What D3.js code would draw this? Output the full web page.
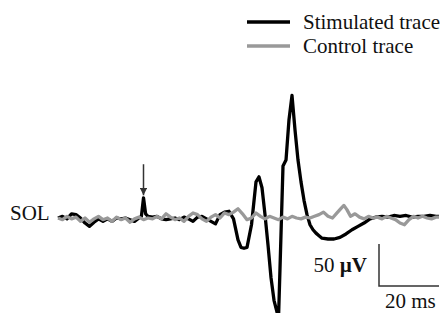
<!DOCTYPE html>
<html>
<head>
<meta charset="utf-8">
<script src="https://cdn.jsdelivr.net/npm/d3@7.9.0/dist/d3.min.js"></script>
<style>
  html, body { margin: 0; padding: 0; background: #fff; }
  svg { display: block; }
</style>
</head>
<body>
<div id="viz"></div>
<script>
// stimulated trace (time in ms, amplitude in µV)
const stimTime = [0, 1.5, 3, 4.5, 6, 7.5, 9, 10.5, 12, 13.5, 15, 16.5, 18, 19.5, 21, 22.5, 24, 25.5, 27, 27.8,
  28.5, 29.2, 30, 31.5, 33, 34.5, 36, 37.5, 39, 40.5, 42, 43.5, 45, 46.5, 48, 49.5, 51, 52.5, 54, 55.5,
  57, 58.5, 60, 61, 62, 63, 64.5, 66, 67, 68, 69, 70, 71, 72, 73, 73.5, 74, 75, 76, 77,
  78, 79, 80, 81, 82, 83, 84, 85, 86, 87, 88, 90, 92, 94, 96, 98, 100, 102, 104, 106,
  108, 110, 112, 114, 116, 118, 120, 122, 124, 126, 127];
const stimValues = [0, 2, -1, 5, 4, 0, -6, -10, -5, -1, -4, -1, -4, 0, -1, 0, -2, -4, 0, 2,
  24, 5, 2, 1, 2, -1, -2, -1, 0, -2, 1, -1, -4, 1, 2, -1, -4, -7, 4, 7,
  8, -1, -26, -35, -36, -35, -8, 43, 49, 36, 4, -32, -71, -98, -112, -120, -60, 62, 69, 117,
  146, 105, 69, 43, 21, 4, -8, -14, -18, -21, -24, -25, -25, -23, -19, -14, -10, -6, -1, 1,
  2, 1, 3, 2, 3, 1, 2, 2, 3, 2, 2];

// control trace
const ctrlTime = [0, 1.5, 3, 4.5, 6, 7.5, 9, 10.5, 12, 13.5, 15, 16.5, 18, 19.5, 21, 22.5, 24, 25.5, 27, 28.5,
  30, 31.5, 33, 34.5, 36, 37.5, 39, 40.5, 42, 43.5, 45, 46.5, 48, 49.5, 51, 52.5, 54, 55.5, 57, 58.5,
  60, 61.5, 63, 64.5, 66, 67.5, 69, 70.5, 72, 73.5, 75, 76.5, 78, 79.5, 81, 82.5, 84, 85.5, 87, 88.5,
  90, 91.5, 93, 94.5, 95.3, 96.3, 97.5, 99, 100.5, 102, 103.5, 105, 106.5, 108, 109.5, 111, 112.5, 114, 115.5, 117,
  118.5, 120, 121.5, 123, 124.5, 126, 127];
const ctrlValues = [0, -2, 2, -1, 1, -4, 0, -5, -1, 2, -2, 0, -4, 1, -2, 0, -5, -1, 1, -2,
  0, -1, 2, -1, 5, 1, -2, 0, -4, 2, 6, 4, -1, -4, 1, 4, 0, 6, 4, 7,
  11, 5, -2, 0, 6, 2, -1, 2, 0, -2, 1, -1, 2, 0, -1, 1, 0, 2, 4, 7,
  2, 0, 6, 12, 15, 10, 2, 5, 1, -1, 2, 0, 1, -1, 2, 0, -2, -6, -8, -2,
  2, 0, 2, 0, -1, 1, 1];

const legendLabels = ["Stimulated trace", "Control trace"];
const legendColors = ["#000000", "#999999"];

const stimulusAt = 28.5;       // ms, arrow position
const barOrigin = [107, -81];  // ms, µV
const barTime = 20;            // ms
const barAmp = 50;             // µV

const width = 448;
const height = 313;
const serif = "'Liberation Serif', 'Times New Roman', 'DejaVu Serif', serif";

const x = d3.scaleLinear().domain([0, 127]).range([58, 439]);
const y = d3.scaleLinear().domain([0, 50]).range([218, 176]);

const svg = d3.select("#viz")
  .append("svg")
  .attr("width", width)
  .attr("height", height)
  .style("font-family", serif);

const line = d3.line()
  .x(d => x(d[0]))
  .y(d => y(d[1]));

const stimData = stimTime.map((t, i) => [t, stimValues[i]]);
const ctrlData = ctrlTime.map((t, i) => [t, ctrlValues[i]]);

// traces
svg.append("path")
  .datum(stimData)
  .attr("d", line)
  .attr("fill", "none")
  .attr("stroke", legendColors[0])
  .attr("stroke-width", 3.3)
  .attr("stroke-linejoin", "round");

svg.append("path")
  .datum(ctrlData)
  .attr("d", line)
  .attr("fill", "none")
  .attr("stroke", legendColors[1])
  .attr("stroke-width", 3.3)
  .attr("stroke-linejoin", "round");

// stimulus arrow
svg.append("defs").append("marker")
  .attr("id", "head")
  .attr("viewBox", "0 0 10 10")
  .attr("refX", 10).attr("refY", 5)
  .attr("markerWidth", 5).attr("markerHeight", 5)
  .attr("orient", "auto")
  .append("path")
  .attr("d", "M0,0L10,5L0,10z")
  .attr("fill", "#333");

svg.append("line")
  .attr("x1", x(stimulusAt)).attr("x2", x(stimulusAt))
  .attr("y1", y(64)).attr("y2", y(27))
  .attr("stroke", "#333")
  .attr("stroke-width", 1.5)
  .attr("marker-end", "url(#head)");

function addText(sel, px, py, str, anchor) {
  return sel.append("text")
    .attr("x", px)
    .attr("y", py)
    .attr("dy", "0.33em")
    .attr("text-anchor", anchor || "start")
    .attr("font-family", serif)
    .attr("font-size", 21)
    .attr("fill", "#111")
    .text(str);
}

// channel label
addText(svg, 10, y(0) - 5, "SOL");

// legend
const legend = svg.append("g");
legendLabels.forEach((label, i) => {
  const ly = 22 + i * 24;
  legend.append("line")
    .attr("x1", 247).attr("x2", 290)
    .attr("y1", ly).attr("y2", ly)
    .attr("stroke", legendColors[i])
    .attr("stroke-width", 3.5);
  addText(legend, 303, ly, label);
});

// scale bar
const bx = x(barOrigin[0]);
const by = y(barOrigin[1]);
svg.append("path")
  .attr("d", `M${bx},${y(barOrigin[1] + barAmp)}L${bx},${by}L${x(barOrigin[0] + barTime)},${by}`)
  .attr("fill", "none")
  .attr("stroke", "#333")
  .attr("stroke-width", 1.5);

const ampLabel = addText(svg, bx - 12, y(barOrigin[1] + barAmp / 2), "", "end");
ampLabel.append("tspan").text("50 ");
ampLabel.append("tspan").attr("font-weight", "bold").text("µV");

addText(svg, bx + 6, by + 15, "20 ms");
</script>
</body>
</html>
